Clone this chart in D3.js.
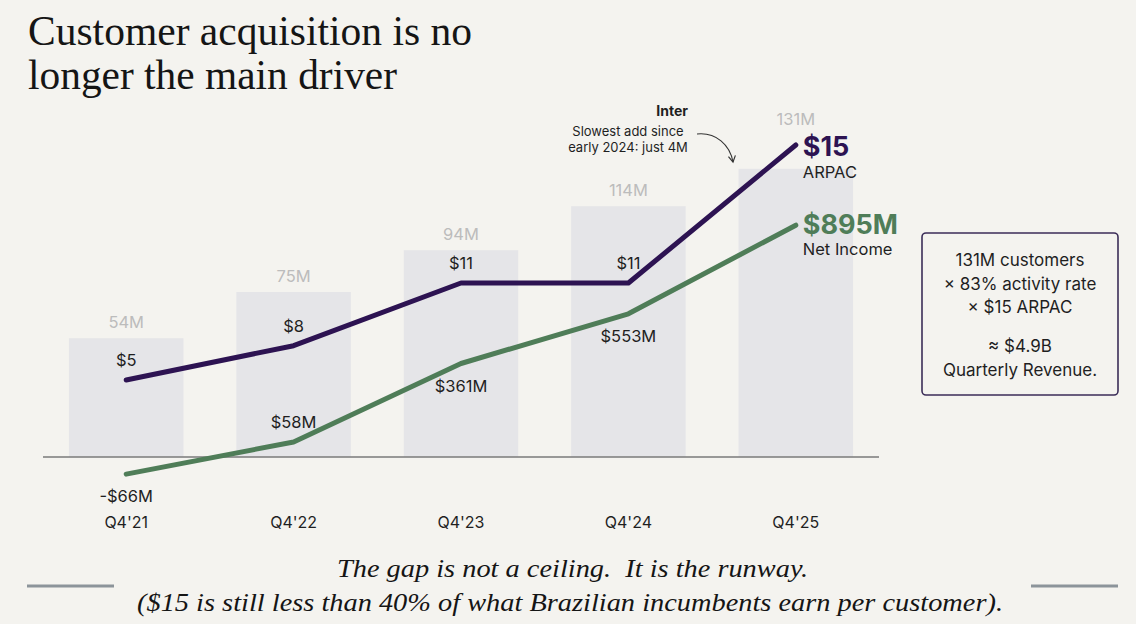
<!DOCTYPE html>
<html lang="en">
<head>
  <meta charset="utf-8">
  <script src="https://d3js.org/d3.v7.min.js"></script>
  <style>
    body { margin: 0; background: #f4f3ef; }
    svg { display: block; }
  </style>
</head>
<body>
<svg width="1136" height="624"></svg>
<script>
  // data
  var quarters = ["Q4'21", "Q4'22", "Q4'23", "Q4'24", "Q4'25"];
  var customers = [54, 75, 94, 114, 131];      // millions
  var arpac = [5, 8, 11, 11, 15];              // $ per customer
  var netIncome = [-66, 58, 361, 553, 895];    // $ millions
  var boxLines = ["131M customers", "\u00d7 83% activity rate", "\u00d7 $15 ARPAC", "", "\u2248 $4.9B", "Quarterly Revenue."];

  var purple = "#2d1352";
  var green = "#4f7d58";
  var ink = "#1f1f1f";
  var sans = "Inter, 'Noto Sans', sans-serif";
  var serif = "'Liberation Serif', 'DejaVu Serif', serif";

  var svg = d3.select("svg");
  var baseY = 457;

  var x = d3.scaleBand().domain(quarters).range([43, 879]).paddingInner(0.316).paddingOuter(0.155);
  var cx = function(d) { return x(d) + x.bandwidth() / 2; };
  var yBar = d3.scaleLinear().domain([0, 140]).range([baseY, baseY - 308]);
  var yNet = d3.scaleLinear().domain([0, 1000]).range([baseY, baseY - 259]);
  // the ARPAC line is drawn on a stretched scale in the original
  var yArp = d3.scalePow().exponent(2.6).domain([5, 15]).range([380, 145]);

  // title
  var title = svg.append("text")
    .attr("font-family", serif).attr("font-size", 41.5).attr("fill", "#151515");
  title.append("tspan").attr("x", 28).attr("y", 45).attr("textLength", 444)
    .attr("lengthAdjust", "spacingAndGlyphs").text("Customer acquisition is no");
  title.append("tspan").attr("x", 28).attr("y", 89).attr("textLength", 369)
    .attr("lengthAdjust", "spacingAndGlyphs").text("longer the main driver");

  // bars
  var g = svg.append("g");
  g.selectAll("rect.bar").data(customers).enter().append("rect")
    .attr("class", "bar")
    .attr("x", function(d, i) { return x(quarters[i]); })
    .attr("y", function(d) { return yBar(d); })
    .attr("width", x.bandwidth())
    .attr("height", function(d) { return baseY - yBar(d); })
    .attr("fill", "#e5e5e8");

  g.selectAll("text.cust").data(customers).enter().append("text")
    .attr("class", "cust")
    .attr("x", function(d, i) { return cx(quarters[i]); })
    .attr("y", function(d, i) {
      return Math.min(yBar(d) - 10, yArp(arpac[i]) - 20);
    })
    .attr("text-anchor", "middle")
    .attr("font-family", sans).attr("font-size", 16.5).attr("fill", "#bcbcbc")
    .text(function(d) { return d + "M"; });

  // zero line
  g.append("line")
    .attr("x1", x.range()[0]).attr("x2", x.range()[1])
    .attr("y1", baseY).attr("y2", baseY)
    .attr("stroke", "#7a7a7a").attr("stroke-width", 1.5);

  // x labels
  g.selectAll("text.q").data(quarters).enter().append("text")
    .attr("class", "q")
    .attr("x", function(d) { return cx(d); })
    .attr("y", 528)
    .attr("text-anchor", "middle")
    .attr("font-family", sans).attr("font-size", 16).attr("fill", ink)
    .text(function(d) { return d; });

  // lines
  var arpLine = d3.line()
    .x(function(d, i) { return cx(quarters[i]); })
    .y(function(d) { return yArp(d); });
  var netLine = d3.line()
    .x(function(d, i) { return cx(quarters[i]); })
    .y(function(d) { return yNet(d); });

  g.append("path").datum(netIncome).attr("d", netLine)
    .attr("fill", "none").attr("stroke", green).attr("stroke-width", 5)
    .attr("stroke-linecap", "round").attr("stroke-linejoin", "round");
  g.append("path").datum(arpac).attr("d", arpLine)
    .attr("fill", "none").attr("stroke", purple).attr("stroke-width", 5)
    .attr("stroke-linecap", "round").attr("stroke-linejoin", "round");

  var last = quarters.length - 1;

  // point labels
  g.selectAll("text.arp").data(arpac.slice(0, last)).enter().append("text")
    .attr("class", "arp")
    .attr("x", function(d, i) { return cx(quarters[i]); })
    .attr("y", function(d) { return yArp(d) - 14; })
    .attr("text-anchor", "middle")
    .attr("font-family", sans).attr("font-size", 16.5).attr("fill", ink)
    .text(function(d) { return "$" + d; });

  g.selectAll("text.net").data(netIncome.slice(0, last)).enter().append("text")
    .attr("class", "net")
    .attr("x", function(d, i) { return cx(quarters[i]); })
    .attr("y", function(d, i) { return i === 1 ? yNet(d) - 14 : yNet(d) + 28; })
    .attr("text-anchor", "middle")
    .attr("font-family", sans).attr("font-size", 16.5).attr("fill", ink)
    .text(function(d) { return (d < 0 ? "-$" : "$") + Math.abs(d) + "M"; });

  // end labels
  var ex = cx(quarters[last]) + 7;
  g.append("text").attr("x", ex).attr("y", yArp(arpac[last]) + 11)
    .attr("font-family", sans).attr("font-size", 27).attr("font-weight", 700)
    .attr("fill", purple).text("$" + arpac[last]);
  g.append("text").attr("x", ex).attr("y", yArp(arpac[last]) + 33)
    .attr("font-family", sans).attr("font-size", 16.5).attr("fill", ink).text("ARPAC");
  g.append("text").attr("x", ex).attr("y", yNet(netIncome[last]) + 9)
    .attr("font-family", sans).attr("font-size", 27).attr("font-weight", 700)
    .attr("fill", green).text("$" + netIncome[last] + "M");
  g.append("text").attr("x", ex).attr("y", yNet(netIncome[last]) + 30)
    .attr("font-family", sans).attr("font-size", 16.5).attr("fill", ink).text("Net Income");

  // annotation
  svg.append("defs").append("marker")
    .attr("id", "arrow").attr("viewBox", "0 0 10 10")
    .attr("refX", 8).attr("refY", 5)
    .attr("markerWidth", 8).attr("markerHeight", 8)
    .attr("orient", "auto")
    .append("path").attr("d", "M1,1 L8,5 L1,9")
    .attr("fill", "none").attr("stroke", "#333").attr("stroke-width", 1.3);

  svg.append("text").attr("x", 688).attr("y", 116).attr("text-anchor", "end")
    .attr("font-family", sans).attr("font-size", 14).attr("font-weight", 700)
    .attr("fill", ink).text("Inter");
  svg.append("text").attr("x", 628).attr("y", 136).attr("text-anchor", "middle")
    .attr("font-family", sans).attr("font-size", 13).attr("fill", ink).text("Slowest add since");
  svg.append("text").attr("x", 628).attr("y", 152).attr("text-anchor", "middle")
    .attr("font-family", sans).attr("font-size", 13).attr("fill", ink).text("early 2024: just 4M");
  svg.append("path")
    .attr("d", "M697,134 C716,132 730,145 733,162")
    .attr("fill", "none").attr("stroke", "#333").attr("stroke-width", 1.1)
    .attr("marker-end", "url(#arrow)");

  // revenue box
  svg.append("rect")
    .attr("x", 922).attr("y", 233).attr("width", 196).attr("height", 162).attr("rx", 4)
    .attr("fill", "none").attr("stroke", "#3b2d58").attr("stroke-width", 1.6);
  svg.selectAll("text.box").data(boxLines).enter().append("text")
    .attr("class", "box")
    .attr("x", 1020)
    .attr("y", function(d, i) { return 266 + i * 23.5 + (i > 3 ? -8 : 0); })
    .attr("text-anchor", "middle")
    .attr("font-family", sans).attr("font-size", 17).attr("fill", ink)
    .text(function(d) { return d; });

  // footer
  var foot = svg.append("text")
    .attr("font-family", serif).attr("font-style", "italic")
    .attr("font-size", 25).attr("fill", "#151515");
  foot.append("tspan").attr("x", 337).attr("y", 577).attr("textLength", 471)
    .attr("lengthAdjust", "spacingAndGlyphs")
    .text("The gap is not a ceiling.\u00a0 It is the runway.");
  foot.append("tspan").attr("x", 137).attr("y", 611).attr("textLength", 866)
    .attr("lengthAdjust", "spacingAndGlyphs")
    .text("($15 is still less than 40% of what Brazilian incumbents earn per customer).");

  [[27, 114], [1031, 1118]].forEach(function(p) {
    svg.append("line").attr("x1", p[0]).attr("x2", p[1]).attr("y1", 586).attr("y2", 586)
      .attr("stroke", "#8c949a").attr("stroke-width", 3);
  });
</script>
</body>
</html>
